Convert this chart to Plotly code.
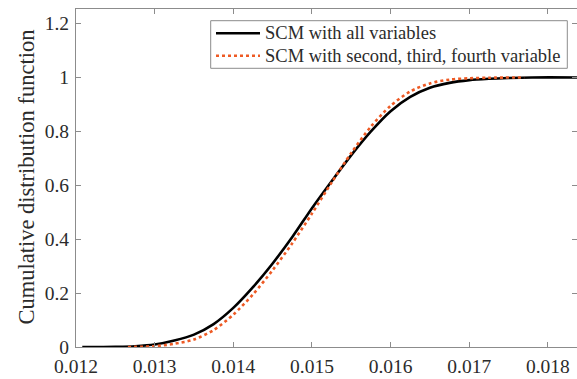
import plotly.graph_objects as go

# ---- data ----
black_x = [0.01208, 0.0125, 0.01275, 0.0130, 0.01325, 0.0135, 0.01375, 0.0140,
           0.01425, 0.0145, 0.01475, 0.0150, 0.01525, 0.0155, 0.01575, 0.0160,
           0.01625, 0.0165, 0.01675, 0.0170, 0.01725, 0.0175, 0.0178, 0.0184]
black_y = [0.0, 0.001, 0.003, 0.009, 0.024, 0.046, 0.085, 0.145,
           0.222, 0.31, 0.408, 0.515, 0.615, 0.712, 0.80, 0.875,
           0.928, 0.962, 0.98, 0.99, 0.995, 0.998, 1.0, 1.0]

red_x = [0.01266, 0.0130, 0.01325, 0.0135, 0.01375, 0.0140, 0.01425, 0.0145,
         0.01475, 0.0150, 0.01525, 0.0155, 0.01575, 0.0160, 0.01625, 0.0165,
         0.01675, 0.0170, 0.01725, 0.0177]
red_y = [0.0, 0.003, 0.012, 0.028, 0.063, 0.12, 0.195, 0.285,
         0.385, 0.495, 0.61, 0.72, 0.818, 0.895, 0.948, 0.978,
         0.992, 0.997, 0.999, 1.0]

series_names = ["SCM with all variables", "SCM with second, third, fourth variable"]
x_ticks = [0.012, 0.013, 0.014, 0.015, 0.016, 0.017, 0.018]
x_tick_labels = ["0.012", "0.013", "0.014", "0.015", "0.016", "0.017", "0.018"]
y_ticks = [0, 0.2, 0.4, 0.6, 0.8, 1.0, 1.2]
y_tick_labels = ["0", "0.2", "0.4", "0.6", "0.8", "1", "1.2"]
y_title = "Cumulative distribution function"

SERIF = "Liberation Serif"
AXIS_COLOR = "#8c8c8c"
TEXT_COLOR = "#2b2b2b"
BLACK = "black"
RED = "#EE5A24"

W, H = 577, 379
ML, MR, MT, MB = 76, 0, 9, 32
PW, PH = W - ML - MR, H - MT - MB


def px(xp):
    return (xp - ML) / PW


def py(yp):
    return (H - MB - yp) / PH


fig = go.Figure()
fig.add_trace(go.Scatter(
    x=black_x, y=black_y, mode="lines", name=series_names[0],
    line=dict(color=BLACK, width=2.6, shape="spline", smoothing=0.8),
    showlegend=False,
))
fig.add_trace(go.Scatter(
    x=red_x, y=red_y, mode="lines", name=series_names[1],
    line=dict(color=RED, width=2.6, dash="dot", shape="spline", smoothing=0.8),
    showlegend=False,
))

# legend drawn as a box with sample lines and text
shapes = [
    dict(type="rect", xref="paper", yref="paper",
         x0=px(210.7), x1=px(567.3), y0=py(68.3), y1=py(20.7),
         line=dict(color=AXIS_COLOR, width=1), fillcolor="white", layer="above"),
    dict(type="line", xref="paper", yref="paper",
         x0=px(216), x1=px(260), y0=py(33.3), y1=py(33.3),
         line=dict(color=BLACK, width=2.6)),
    dict(type="line", xref="paper", yref="paper",
         x0=px(216), x1=px(260), y0=py(55.7), y1=py(55.7),
         line=dict(color=RED, width=2.6, dash="dot")),
]
annotations = [
    dict(text=series_names[0], showarrow=False, xref="paper", yref="paper",
         x=px(263), y=py(33.3), xanchor="left", yanchor="middle",
         font=dict(family=SERIF, size=18.5, color=TEXT_COLOR)),
    dict(text=series_names[1], showarrow=False, xref="paper", yref="paper",
         x=px(263), y=py(55.7), xanchor="left", yanchor="middle",
         font=dict(family=SERIF, size=18.5, color=TEXT_COLOR)),
    dict(text=y_title, textangle=-90, showarrow=False,
         xref="paper", yref="paper", x=px(26), y=py(177.5),
         xanchor="center", yanchor="middle",
         font=dict(family=SERIF, size=22.5, color=TEXT_COLOR)),
]

fig.update_layout(
    width=W, height=H,
    margin=dict(l=ML, r=MR, t=MT, b=MB, autoexpand=False),
    paper_bgcolor="white", plot_bgcolor="white",
    font=dict(family=SERIF, color=TEXT_COLOR, size=19.5),
    showlegend=False,
    shapes=shapes,
    annotations=annotations,
    xaxis=dict(
        range=[0.012, 0.01837], automargin=False,
        tickvals=x_ticks, ticktext=x_tick_labels,
        showgrid=False, zeroline=False,
        showline=True, linecolor=AXIS_COLOR, linewidth=1,
        mirror="ticks", ticks="inside", ticklen=5, tickcolor=AXIS_COLOR,
        ticklabelstandoff=2,
        tickfont=dict(family=SERIF, size=19.5, color=TEXT_COLOR),
    ),
    yaxis=dict(
        range=[0, 1.254], automargin=False,
        tickvals=y_ticks, ticktext=y_tick_labels,
        showgrid=False, zeroline=False,
        showline=True, linecolor=AXIS_COLOR, linewidth=1,
        mirror="ticks", ticks="inside", ticklen=5, tickcolor=AXIS_COLOR,
        ticklabelstandoff=2,
        tickfont=dict(family=SERIF, size=19.5, color=TEXT_COLOR),
    ),
)

# remove the browser's default 8px page margin so the figure fills the window
fig.write_html(
    "out.html",
    config={"displayModeBar": False},
    post_script="document.body.style.margin='0';document.body.style.overflow='hidden';",
)
